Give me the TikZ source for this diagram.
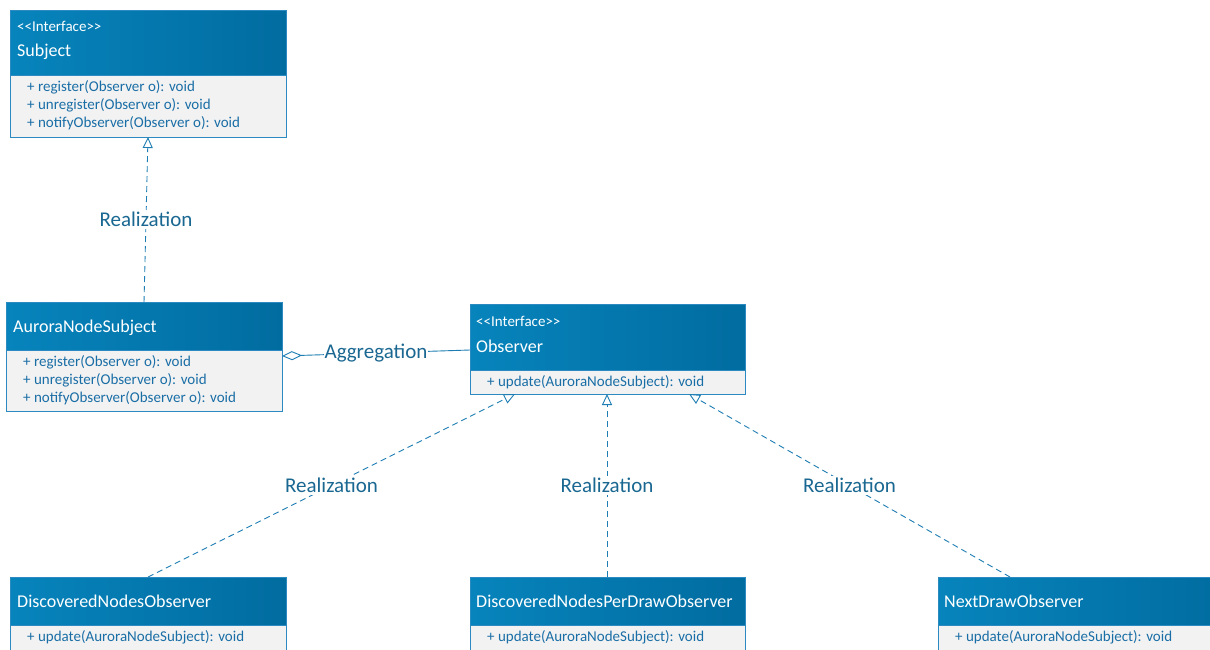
\documentclass[tikz,border=0pt]{standalone}
\usepackage{fontspec}
\setmainfont{Carlito}
\usetikzlibrary{arrows.meta}
\definecolor{hdrL}{HTML}{0784BC}
\definecolor{hdrR}{HTML}{016CA0}
\definecolor{boxborder}{HTML}{2C8AC0}
\definecolor{bodyfill}{HTML}{F2F2F2}
\definecolor{memtext}{HTML}{1A6EA6}
\definecolor{lbltext}{HTML}{1A6892}
\definecolor{linecol}{HTML}{1E7DB3}
\tikzset{
  hdr/.style={draw=boxborder, line width=1pt, left color=hdrL, right color=hdrR, anchor=north west, inner sep=0pt, rectangle},
  body/.style={draw=boxborder, line width=1pt, fill=bodyfill, anchor=north west, inner sep=0pt, rectangle},
  stereo/.style={text=white, anchor=west, inner sep=0pt, yshift=-1pt, font=\fontsize{15}{17}\selectfont},
  cname/.style={text=white, anchor=west, inner sep=0pt, yshift=-1.5pt, font=\fontsize{18}{21}\selectfont},
  member/.style={text=memtext, anchor=west, inner sep=0pt, yshift=-0.5pt, font=\fontsize{15}{17}\selectfont},
  conn/.style={draw=linecol, line width=0.9pt},
  realiz/.style={conn, dash pattern=on 6pt off 4pt, -{Triangle[open, length=11pt, width=10pt]}},
  lbl/.style={text=lbltext, fill=white, inner sep=2pt, font=\fontsize{21}{24}\selectfont},
}
\newcommand{\stereoI}{<{}<Interface>{}>}
\begin{document}
\begin{tikzpicture}[x=1pt, y=-1pt]
\useasboundingbox (0,0) rectangle (1210,649);
\clip (0,0) rectangle (1210,649);
\fill[white] (0,0) rectangle (1210,649);

% Subject
\node[body, minimum width=276pt, minimum height=62pt] (subjB) at (10,75) {};
\node[hdr, minimum width=276pt, minimum height=65pt] (subjH) at (10,10) {};
\node[stereo] (subjS) at (17,25) {\stereoI};
\node[cname] (subjN) at (17,50) {Subject};
\node[member] (subjM1) at (27,87) {+ register(Observer o): void};
\node[member] (subjM2) at (27,105) {+ unregister(Observer o): void};
\node[member] (subjM3) at (27,123) {+ notifyObserver(Observer o): void};

% AuroraNodeSubject
\node[body, minimum width=276pt, minimum height=61pt] (ansB) at (6,350) {};
\node[hdr, minimum width=276pt, minimum height=48pt] (ansH) at (6,302) {};
\node[cname] (ansN) at (13,326) {AuroraNodeSubject};
\node[member] (ansM1) at (23,362) {+ register(Observer o): void};
\node[member] (ansM2) at (23,380) {+ unregister(Observer o): void};
\node[member] (ansM3) at (23,398) {+ notifyObserver(Observer o): void};

% Observer
\node[body, minimum width=275pt, minimum height=24pt] (obsB) at (470,370) {};
\node[hdr, minimum width=275pt, minimum height=66pt] (obsH) at (470,304) {};
\node[stereo] (obsS) at (476,320) {\stereoI};
\node[cname] (obsN) at (476,345) {Observer};
\node[member] (obsM1) at (487,382) {+ update(AuroraNodeSubject): void};

% DiscoveredNodesObserver
\node[body, minimum width=276pt, minimum height=60pt] (dnoB) at (10,625) {};
\node[hdr, minimum width=276pt, minimum height=48pt] (dnoH) at (10,577) {};
\node[cname] (dnoN) at (17,600) {DiscoveredNodesObserver};
\node[member] (dnoM1) at (27,637) {+ update(AuroraNodeSubject): void};

% DiscoveredNodesPerDrawObserver
\node[body, minimum width=275pt, minimum height=60pt] (dnpB) at (470,625) {};
\node[hdr, minimum width=275pt, minimum height=48pt] (dnpH) at (470,577) {};
\node[cname] (dnpN) at (476,600) {DiscoveredNodesPerDrawObserver};
\node[member] (dnpM1) at (487,637) {+ update(AuroraNodeSubject): void};

% NextDrawObserver
\node[body, minimum width=290pt, minimum height=60pt] (ndoB) at (938,625) {};
\node[hdr, minimum width=290pt, minimum height=48pt] (ndoH) at (938,577) {};
\node[cname] (ndoN) at (944,600) {NextDrawObserver};
\node[member] (ndoM1) at (955,637) {+ update(AuroraNodeSubject): void};

% connector end points
\coordinate (r1s) at (144,302);
\coordinate (r1e) at (148,137);
\coordinate (aggS) at (282,356);
\coordinate (aggE) at (470,350);
\coordinate (r2s) at (148,577);
\coordinate (r2e) at (515,394);
\coordinate (r3s) at (607,577);
\coordinate (r3e) at (607,394);
\coordinate (r4s) at (1010,577);
\coordinate (r4e) at (689,394);

\draw[realiz] (r1s) -- node[lbl] {Realization} (r1e);
\draw[conn, {Diamond[open, length=20pt, width=9pt]}-] (aggS) -- node[lbl, inner sep=1pt] {Aggregation} (aggE);
\draw[realiz] (r2s) -- node[lbl] {Realization} (r2e);
\draw[realiz] (r3s) -- node[lbl] {Realization} (r3e);
\draw[realiz] (r4s) -- node[lbl] {Realization} (r4e);
\end{tikzpicture}
\end{document}
